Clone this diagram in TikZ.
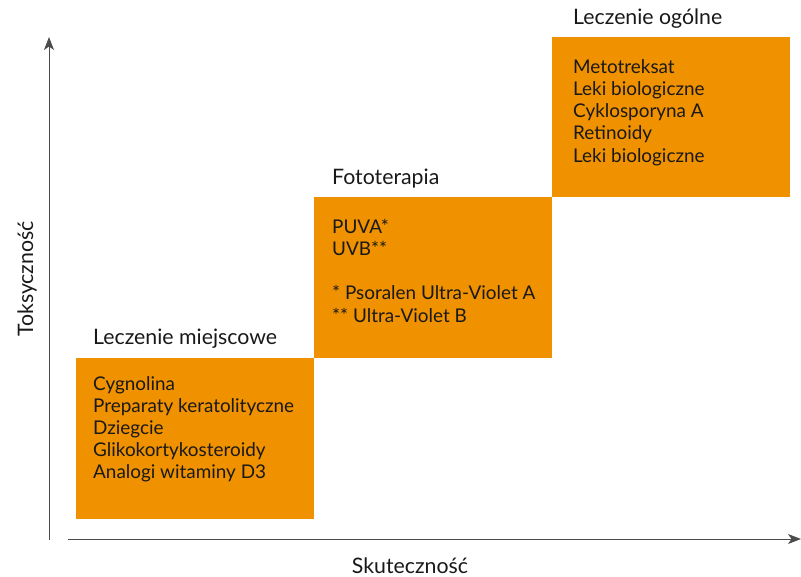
\documentclass[tikz,border=0pt]{standalone}
\usepackage{fontspec}
\setmainfont{Lato}
\usetikzlibrary{arrows.meta}
\definecolor{boxorange}{RGB}{240,145,0}
\definecolor{ink}{RGB}{25,25,25}
\begin{document}
\begin{tikzpicture}[x=1pt,y=-1pt,
  stepbox/.style={fill=boxorange,draw=none},
  txt/.style={anchor=base west,inner sep=0pt,font=\fontsize{18.9}{22.2}\selectfont,align=left,text=ink},
  head/.style={anchor=base west,inner sep=0pt,font=\fontsize{21.3}{24}\selectfont,text=ink},
  axis/.style={draw=black!70,line width=1pt,-{Stealth[length=13pt,width=10pt,inset=3.5pt]}}]
\useasboundingbox (0,0) rectangle (801,577);
% boxes
\fill[stepbox] (76,358) rectangle (314,519);
\fill[stepbox] (314,197) rectangle (552,358);
\fill[stepbox] (552,37) rectangle (790,197);
% axes
\coordinate (yb) at (49,540);
\coordinate (yt) at (49,37);
\coordinate (xl) at (68,539);
\coordinate (xr) at (801,539);
\draw[axis] (yb) -- (yt);
\draw[axis] (xl) -- (xr);
% headings
\node[head] (h1) at (93,345) {Leczenie miejscowe};
\node[head] (h2) at (332,185) {Fototerapia};
\node[head] (h3) at (573,24.3) {Leczenie ogólne};
% contents (anchor at baseline of last line)
\node[txt] (t1) at (93,478.8) {Cygnolina\\Preparaty keratolityczne\\Dziegcie\\Glikokortykosteroidy\\Analogi witaminy D3};
\node[txt] (t2) at (332,322.1) {PUVA*\\UVB**\\[22.2pt]* Psoralen Ultra-Violet A\\** Ultra-Violet B};
\node[txt] (t3) at (573,162.1) {Metotreksat\\Leki biologiczne\\Cyklosporyna A\\Retinoidy\\Leki biologiczne};
% axis labels
\node[head,anchor=base,rotate=90] (ly) at (33,279) {Toksyczność};
\node[head,anchor=base] (lx) at (410,573) {Skuteczność};
\end{tikzpicture}
\end{document}
